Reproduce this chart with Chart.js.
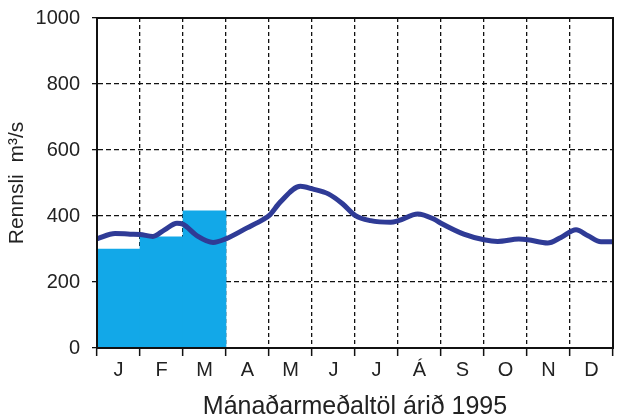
<!DOCTYPE html>
<html>
<head>
<meta charset="utf-8">
<script src="https://cdn.jsdelivr.net/npm/chart.js@4"></script>
<style>
  html, body { margin: 0; padding: 0; background: #ffffff; }
  #wrap { width: 622px; height: 417px; position: relative; }
</style>
</head>
<body>
<div id="wrap"><canvas id="c" width="622" height="417"></canvas></div>
<script>
// Month labels along the x axis
const months = ['J', 'F', 'M', 'A', 'M', 'J', 'J', 'Á', 'S', 'O', 'N', 'D'];

// Monthly mean flow bars (only Jan–Mar)
const barValues = [300, 337, 416, null, null, null, null, null, null, null, null, null];

// Flow curve through the year: position in months (0–12) and flow in m³/s
const flowMonth = [0.00, 0.42, 0.77, 1.00, 1.30, 1.57, 1.86, 2.00, 2.33, 2.70, 2.98, 3.49, 3.87, 4.00,
                   4.26, 4.73, 5.01, 5.38, 5.71, 6.01, 6.36, 6.83, 7.01, 7.46, 7.83, 8.00, 8.53,
                   9.00, 9.32, 9.81, 10.02, 10.48, 10.79, 11.14, 11.42, 11.72, 12.00];
const flowValue = [331, 347, 345, 344, 338, 358, 378, 375, 340, 320, 330, 364, 390, 401,
                   442, 490, 482, 467, 437, 401, 386, 381, 386, 406, 391, 378, 345,
                   328, 323, 330, 328, 318, 335, 358, 340, 322, 322];

// Y axis range and tick step
const yMin = 0, yMax = 1000, yStep = 200;

const flowPoints = flowMonth.map((m, i) => ({ x: m, y: flowValue[i] }));

// Solid frame round the plot area
const frameBox = {
  id: 'frameBox',
  afterDraw(chart) {
    const { ctx, chartArea: a } = chart;
    ctx.save();
    ctx.strokeStyle = '#111';
    ctx.lineWidth = 2;
    ctx.setLineDash([]);
    ctx.strokeRect(a.left, a.top, a.right - a.left, a.bottom - a.top);
    ctx.restore();
  }
};

const font = 'Liberation Sans, Arial, Helvetica, sans-serif';

new Chart(document.getElementById('c'), {
  data: {
    labels: months,
    datasets: [
      {
        type: 'line',
        data: flowPoints,
        xAxisID: 'x2',
        borderColor: '#2f3b96',
        borderWidth: 5,
        pointRadius: 0,
        fill: false,
        cubicInterpolationMode: 'monotone',
        order: 0
      },
      {
        type: 'bar',
        data: barValues,
        xAxisID: 'x',
        backgroundColor: '#12a8e8',
        borderWidth: 0,
        grouped: false,
        barPercentage: 1.0,
        categoryPercentage: 1.0,
        order: 1
      }
    ]
  },
  options: {
    responsive: false,
    animation: false,
    layout: { padding: { top: 2, right: 9, left: 0, bottom: -3 } },
    plugins: {
      legend: { display: false },
      tooltip: { enabled: false }
    },
    scales: {
      x: {
        type: 'category',
        offset: true,
        grid: {
          offset: true,
          color: '#111',
          lineWidth: 1.3,
          tickLength: 8,
          tickBorderDash: [],
          tickColor: '#111',
          tickWidth: 1.5
        },
        border: { display: true, color: '#111', width: 2, dash: [4, 3] },
        ticks: {
          color: '#222',
          font: { family: font, size: 20, lineHeight: 1 },
          padding: 4,
          maxRotation: 0,
          autoSkip: false
        },
        title: {
          display: true,
          text: 'Mánaðarmeðaltöl árið 1995',
          color: '#222',
          font: { family: font, size: 25, lineHeight: 1 },
          padding: { top: 11, bottom: 0 }
        }
      },
      x2: {
        type: 'linear',
        min: 0,
        max: 12,
        display: false,
        offset: false
      },
      y: {
        min: yMin,
        max: yMax,
        afterFit: (scale) => { scale.width = 97; scale.paddingTop = 18; },
        ticks: {
          stepSize: yStep,
          color: '#222',
          font: { family: font, size: 20 },
          padding: 12,
          callback: (v) => String(v)
        },
        grid: {
          color: '#111',
          lineWidth: 1.3,
          tickLength: 5,
          tickColor: '#111'
        },
        border: { display: true, color: '#111', width: 2, dash: [5, 3] },
        title: {
          display: true,
          text: 'Rennsli  m³/s',
          color: '#222',
          font: { family: font, size: 21 },
          padding: { top: 5, bottom: 0 }
        }
      }
    }
  },
  plugins: [frameBox]
});
</script>
</body>
</html>
